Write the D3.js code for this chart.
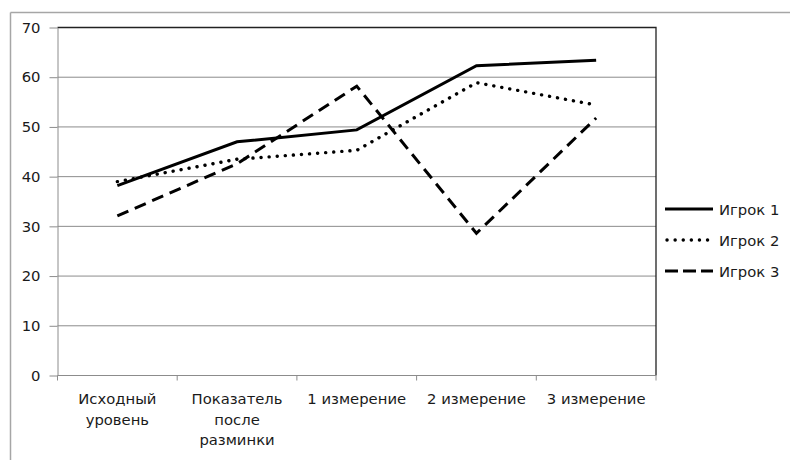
<!DOCTYPE html>
<html>
<head>
<meta charset="utf-8">
<script src="https://cdn.jsdelivr.net/npm/d3@7"></script>
<style>
  html, body { margin: 0; padding: 0; background: #fff; }
  svg { display: block; }
</style>
</head>
<body>
<div id="chart"></div>
<script>
// Stages of the measurement
const categories = [
  "Исходный уровень",
  "Показатель после разминки",
  "1 измерение",
  "2 измерение",
  "3 измерение"
];
// Category labels split into lines as they are drawn under the axis
const categoryLines = [
  ["Исходный", "уровень"],
  ["Показатель", "после", "разминки"],
  ["1 измерение"],
  ["2 измерение"],
  ["3 измерение"]
];
const seriesNames = ["Игрок 1", "Игрок 2", "Игрок 3"];
const player1 = [38.2, 47.0, 49.4, 62.3, 63.4];
const player2 = [39.0, 43.5, 45.3, 58.9, 54.4];
const player3 = [32.1, 42.6, 58.2, 28.6, 51.8];
const yTicks = [0, 10, 20, 30, 40, 50, 60, 70];

const W = 790, H = 460;
const plot = { left: 57.5, right: 656, top: 27.5, bottom: 375.5 };
const FONT = "DejaVu Sans, Verdana, sans-serif";
const FS = 14.8;

const svg = d3.select("#chart").append("svg")
  .attr("width", W).attr("height", H);

// Chart frame (partially visible)
svg.append("line").attr("x1", 10.5).attr("x2", W).attr("y1", 12.5).attr("y2", 12.5)
  .attr("stroke", "#a6a6a6").attr("stroke-width", 1.5);
svg.append("line").attr("x1", 10.5).attr("x2", 10.5).attr("y1", 12.5).attr("y2", H)
  .attr("stroke", "#a6a6a6").attr("stroke-width", 1.5);

const x = d3.scaleBand().domain(categories).range([plot.left, plot.right]).padding(0);
const y = d3.scaleLinear().domain([0, 70]).range([plot.bottom, plot.top]);

// Horizontal gridlines
svg.append("g").selectAll("line").data(yTicks.filter(t => t > 0 && t < 70)).join("line")
  .attr("x1", plot.left).attr("x2", plot.right)
  .attr("y1", d => y(d)).attr("y2", d => y(d))
  .attr("stroke", "#8c8c8c").attr("stroke-width", 1);

// Plot area border: dark top and right
svg.append("path")
  .attr("d", `M${plot.left},${plot.top}H${plot.right}V${plot.bottom}`)
  .attr("fill", "none").attr("stroke", "#222").attr("stroke-width", 1.3);

// Y axis
const yAxis = svg.append("g")
  .attr("transform", `translate(${plot.left},0)`)
  .call(d3.axisLeft(y).tickValues(yTicks).tickSize(8).tickPadding(9).tickSizeOuter(0));
yAxis.select(".domain").attr("stroke", "#8c8c8c");
yAxis.selectAll(".tick line").attr("stroke", "#8c8c8c");
yAxis.selectAll("text")
  .attr("font-family", FONT)
  .attr("font-size", FS).attr("fill", "#1a1a1a");

// X axis with ticks on category boundaries
const xAxis = svg.append("g")
  .attr("transform", `translate(0,${plot.bottom})`);
xAxis.append("line").attr("x1", plot.left).attr("x2", plot.right)
  .attr("stroke", "#8c8c8c");
const boundaries = categories.map(c => x(c)).concat([x(categories[categories.length - 1]) + x.bandwidth()]);
xAxis.selectAll("line.tk").data(boundaries).join("line").attr("class", "tk")
  .attr("x1", d => d).attr("x2", d => d).attr("y1", 0).attr("y2", 5)
  .attr("stroke", "#8c8c8c");

const labels = xAxis.selectAll("text").data(categories).join("text")
  .attr("text-anchor", "middle")
  .attr("font-family", FONT)
  .attr("font-size", FS).attr("fill", "#1a1a1a");
labels.each(function (d, i) {
  const t = d3.select(this);
  categoryLines[i].forEach((ln, k) => {
    t.append("tspan")
      .attr("x", x(d) + x.bandwidth() / 2)
      .attr("y", 28.5 + k * 20.5)
      .text(ln);
  });
});

// Series lines
const styles = [
  { dash: null, cap: "butt" },
  { dash: "0.1,8", cap: "round" },
  { dash: "12,7", cap: "butt" }
];
const allSeries = [player1, player2, player3];
const line = d3.line()
  .x((d, i) => x(categories[i]) + x.bandwidth() / 2)
  .y(d => y(d));

allSeries.forEach((vals, s) => {
  svg.append("path")
    .datum(vals)
    .attr("d", line)
    .attr("fill", "none")
    .attr("stroke", "#000")
    .attr("stroke-width", s === 1 ? 3.4 : 3)
    .attr("stroke-linejoin", "miter")
    .attr("stroke-linecap", styles[s].cap)
    .attr("stroke-dasharray", styles[s].dash);
});

// Legend
const legend = svg.append("g");
const legY = [209, 240, 271];
seriesNames.forEach((name, s) => {
  legend.append("line")
    .attr("x1", s === 1 ? 667 : 665).attr("x2", 713)
    .attr("y1", legY[s]).attr("y2", legY[s])
    .attr("stroke", "#000").attr("stroke-width", s === 1 ? 3.4 : 3)
    .attr("stroke-linecap", styles[s].cap)
    .attr("stroke-dasharray", s === 2 ? "13,5" : styles[s].dash);
  legend.append("text")
    .attr("x", 719).attr("y", legY[s] + 5.5)
    .attr("font-family", FONT)
    .attr("font-size", FS).attr("fill", "#1a1a1a")
    .text(name);
});
</script>
</body>
</html>
